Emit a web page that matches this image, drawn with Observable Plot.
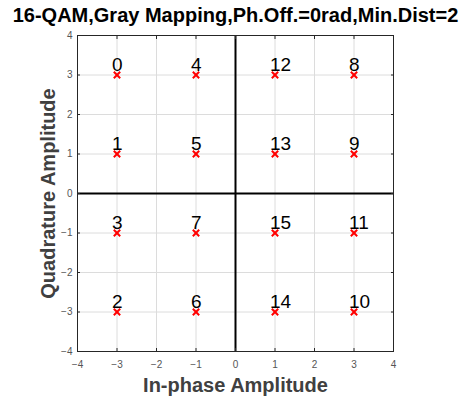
<!DOCTYPE html>
<html>
<head>
<meta charset="utf-8">
<script src="https://cdn.jsdelivr.net/npm/d3@7"></script>
<script src="https://cdn.jsdelivr.net/npm/@observablehq/plot@0.6"></script>
<style>
  html, body { margin: 0; padding: 0; background: #fff; }
  #chart svg { display: block; }
</style>
</head>
<body>
<div id="chart"></div>
<script>
const titleText = "16-QAM,Gray Mapping,Ph.Off.=0rad,Min.Dist=2";
const xLabel = "In-phase Amplitude";
const yLabel = "Quadrature Amplitude";
const symbolI = [-3, -1, 1, 3, -3, -1, 1, 3, -3, -1, 1, 3, -3, -1, 1, 3];
const symbolQ = [3, 3, 3, 3, 1, 1, 1, 1, -1, -1, -1, -1, -3, -3, -3, -3];
const symbolLabel = [0, 4, 12, 8, 1, 5, 13, 9, 3, 7, 15, 11, 2, 6, 14, 10];
const tickValues = [-4, -3, -2, -1, 0, 1, 2, 3, 4];

const points = symbolI.map((v, i) => ({I: v, Q: symbolQ[i], label: String(symbolLabel[i])}));
const font = "'Liberation Sans', Arial, Helvetica, sans-serif";
const noText = () => "";

const chart = Plot.plot({
  width: 462,
  height: 399,
  marginTop: 35,
  marginBottom: 48,
  marginLeft: 77,
  marginRight: 69,
  style: {fontFamily: font, background: "#fff"},
  x: {domain: [-4, 4], ticks: tickValues},
  y: {domain: [-4, 4], ticks: tickValues},
  marks: [
    Plot.gridX(tickValues, {stroke: "#dcdcdc", strokeOpacity: 1, strokeWidth: 1}),
    Plot.gridY(tickValues, {stroke: "#dcdcdc", strokeOpacity: 1, strokeWidth: 1}),
    Plot.ruleX([0], {stroke: "#000", strokeWidth: 2}),
    Plot.ruleY([0], {stroke: "#000", strokeWidth: 2}),
    Plot.frame({stroke: "#262626", strokeWidth: 1}),
    Plot.axisX(tickValues, {anchor: "bottom", tickSize: -3, tickPadding: 12, fontSize: 10, fill: "#555", stroke: "#262626", label: null}),
    Plot.axisY(tickValues, {anchor: "left", tickSize: -3, tickPadding: 8, fontSize: 10, fill: "#555", stroke: "#262626", label: null}),
    Plot.axisX(tickValues, {anchor: "top", tickSize: -3, tickFormat: noText, stroke: "#262626", label: null}),
    Plot.axisY(tickValues, {anchor: "right", tickSize: -3, tickFormat: noText, stroke: "#262626", label: null}),
    Plot.dot(points, {x: "I", y: "Q", symbol: "times", r: 3, stroke: "#ff0000", strokeWidth: 2}),
    Plot.text(points, {x: "I", y: "Q", text: "label", textAnchor: "start", lineAnchor: "bottom", dx: -5, dy: -4, fontSize: 19, fill: "#000"}),
    Plot.text([titleText], {frameAnchor: "top", lineAnchor: "middle", dy: -20, fontSize: 20, fontWeight: "bold", fill: "#000"}),
    Plot.text([xLabel], {frameAnchor: "bottom", lineAnchor: "middle", textAnchor: "middle", dy: 34, fontSize: 20, fontWeight: "bold", fill: "#404040"}),
    Plot.text([yLabel], {frameAnchor: "left", lineAnchor: "middle", textAnchor: "middle", dx: -29, rotate: -90, fontSize: 20, fontWeight: "bold", fill: "#404040"})
  ]
});
document.getElementById("chart").appendChild(chart);
</script>
</body>
</html>
